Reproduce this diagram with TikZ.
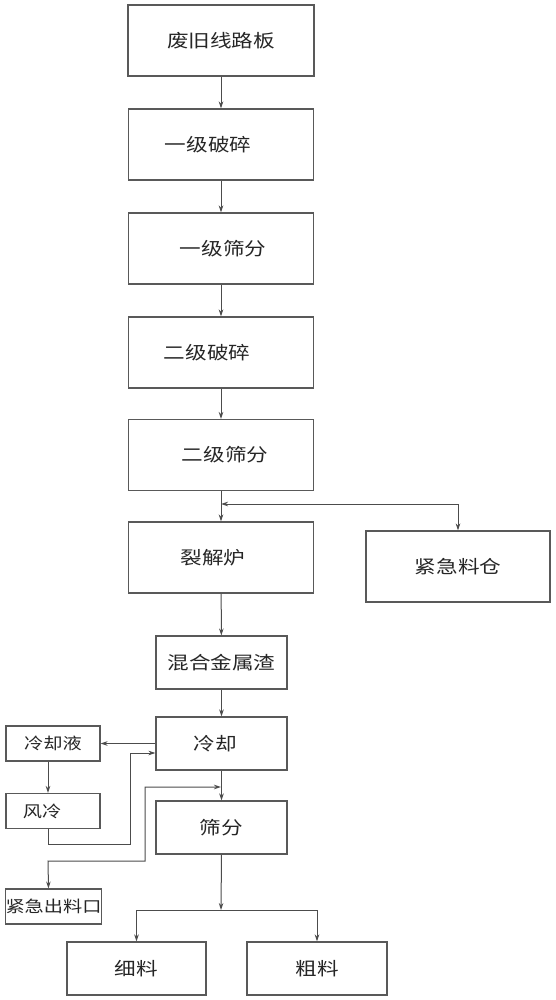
\documentclass[tikz,border=0pt]{standalone}
\usepackage{fontspec}
\newfontfamily\cjk[FakeStretch=1.2]{Noto Sans CJK SC}
\usetikzlibrary{arrows.meta,calc}
\begin{document}
\begin{tikzpicture}[x=1pt,y=-1pt,
  box/.style={draw=black!65,line width=1.1pt,rectangle,inner sep=0pt,font=\cjk\fontsize{18}{20}\selectfont,text=black!85},
  sbox/.style={box,font=\cjk\fontsize{16}{18}\selectfont},
  ln/.style={draw=black!70,line width=1pt},
  arr/.style={ln,-{Stealth[length=7pt,width=4.5pt]}},
  barr/.style={ln,{Stealth[length=7pt,width=4.5pt]}-{Stealth[length=7pt,width=4.5pt]}}]
\useasboundingbox[fill=white] (0,0) rectangle (555,1000);
\node[box,minimum width=186pt,minimum height=71pt] (b1) at (221,40.5) {废旧线路板};
\node[box,minimum width=185pt,minimum height=71pt] (b2) at (221,144.5) {\hspace*{-26pt}一级破碎};
\node[box,minimum width=185pt,minimum height=71pt] (b3) at (221,248.5) {\hspace*{4pt}一级筛分};
\node[box,minimum width=185pt,minimum height=71pt] (b4) at (221,352.5) {\hspace*{-28pt}二级破碎};
\node[box,minimum width=185pt,minimum height=71pt] (b5) at (221,455) {\hspace*{8pt}二级筛分};
\node[box,minimum width=185pt,minimum height=71pt] (b6) at (221,557.5) {\hspace*{-16pt}裂解炉};
\node[box,minimum width=184pt,minimum height=71pt] (em) at (458,566.5) {紧急料仓};
\node[box,minimum width=131pt,minimum height=53pt] (mix) at (221.5,662.5) {混合金属渣};
\node[box,minimum width=131pt,minimum height=53pt] (cool) at (221.5,743.5) {\hspace*{-12pt}冷却};
\node[box,minimum width=131pt,minimum height=53pt] (sieve) at (221.5,827.5) {筛分};
\node[sbox,minimum width=94pt,minimum height=35pt] (liq) at (53,743.5) {冷却液};
\node[sbox,minimum width=94pt,minimum height=35pt] (air) at (53,811) {\hspace*{-22pt}风冷};
\node[sbox,minimum width=95pt,minimum height=35pt] (out) at (53.5,906.5) {紧急出料口};
\node[box,minimum width=139pt,minimum height=53pt] (fine) at (136.5,968.5) {细料};
\node[box,minimum width=140pt,minimum height=53pt] (coarse) at (317,968.5) {粗料};
\coordinate (jb) at (221,504);
\coordinate (jc) at (221,787);
\coordinate (js) at (221,910);
\draw[arr] (b1) -- (b2);
\draw[arr] (b2) -- (b3);
\draw[arr] (b3) -- (b4);
\draw[arr] (b4) -- (b5);
\draw[arr] (b5) -- (b6);
\draw[barr] (jb) -- (jb -| em.north) -- (em.north);
\draw[arr] (b6) -- (mix);
\draw[arr] (mix) -- (cool);
\draw[arr] (cool) -- (sieve);
\draw[arr] (cool.west) -- (liq.east |- cool.west);
\draw[arr] ([xshift=-5pt]liq.south) -- ([xshift=-5pt]air.north);
\draw[arr] ([xshift=-5pt]air.south) -- (48,844) -- (130,844) -- (130,753) -- (cool.west |- 0,753);
\draw[barr] ([xshift=-5pt]out.north) -- (48,861) -- (145,861) -- (145,787) -- (jc);
\draw[arr] (sieve.south) -- (js);
\draw[ln] (js -| fine.north) -- (js -| coarse.north);
\draw[arr] (js -| fine.north) -- (fine.north);
\draw[arr] (js -| coarse.north) -- (coarse.north);
\end{tikzpicture}
\end{document}
